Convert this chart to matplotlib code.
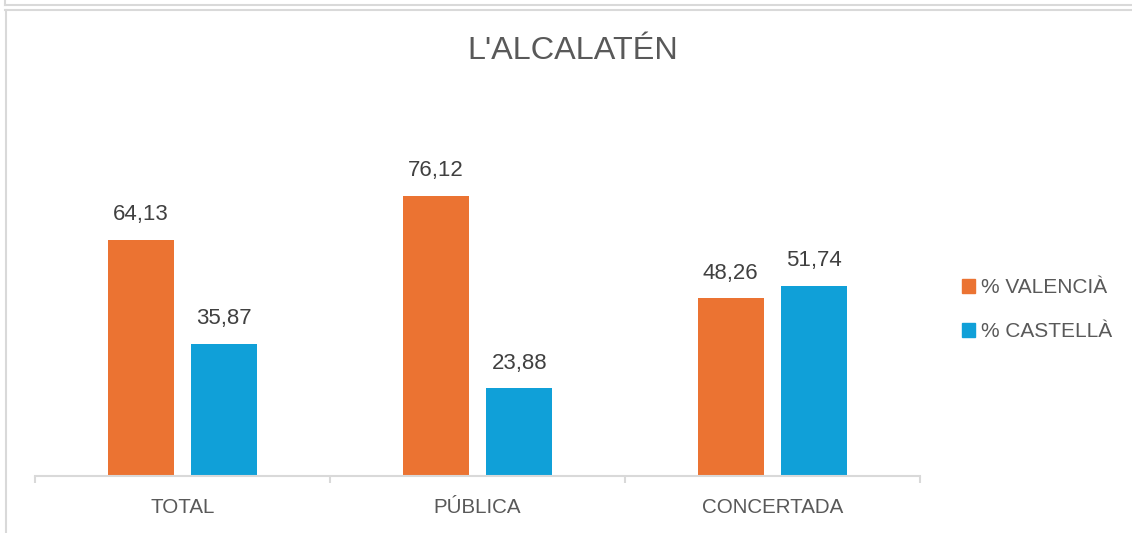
import matplotlib
matplotlib.use("Agg")
import numpy as np
import matplotlib.pyplot as plt
from matplotlib.lines import Line2D
from matplotlib.patches import Patch

plt.rcParams['font.family'] = ['Liberation Sans', 'DejaVu Sans']

# Dades
categories = ['TOTAL', 'PÚBLICA', 'CONCERTADA']
valencia = [64.13, 76.12, 48.26]
castella = [35.87, 23.88, 51.74]
series_names = ['% VALENCIÀ', '% CASTELLÀ']

col_val = '#EB7332'
col_cas = '#10A0D8'
gris = '#595959'
linia = '#D9D9D9'

W, H = 1132, 533
fig = plt.figure(figsize=(W / 100, H / 100), dpi=100)

# marc de fons
fig.add_artist(Line2D([5 / W, 1], [1 - 5 / H, 1 - 5 / H], color=linia, lw=1.5))
fig.add_artist(Line2D([5 / W, 5 / W], [1, 1 - 5 / H], color=linia, lw=1.5))
fig.add_artist(Line2D([5 / W, 1], [1 - 9.5 / H, 1 - 9.5 / H], color=linia, lw=1.5))
fig.add_artist(Line2D([5.5 / W, 5.5 / W], [0, 1 - 9.5 / H], color=linia, lw=1.5))

# eixos en pixels
x0, x1 = 35, 920
yb, yt = 476, 476 - 90 * 3.68
ax = fig.add_axes([x0 / W, 1 - yb / H, (x1 - x0) / W, (yb - yt) / H])

x = np.arange(len(categories))
w = 0.224
off = 0.142
b1 = ax.bar(x - off, valencia, w, color=col_val, zorder=2)
b2 = ax.bar(x + off, castella, w, color=col_cas, zorder=2)

for bars, vals in [(b1, valencia), (b2, castella)]:
    for b, v in zip(bars, vals):
        ax.annotate(f'{v:.2f}'.replace('.', ','),
                    (b.get_x() + b.get_width() / 2, v),
                    xytext=(0, 10.5), textcoords='offset points',
                    ha='center', va='bottom', fontsize=16, color='#404040')

ax.set_xlim(-0.5, 2.5)
ax.set_ylim(0, 90)
for s in ['top', 'right', 'left']:
    ax.spines[s].set_visible(False)
ax.spines['bottom'].set_color(linia)
ax.spines['bottom'].set_linewidth(1.5)
ax.set_yticks([])
ax.set_xticks(x)
ax.set_xticklabels(categories, fontsize=14.8, color=gris)
ax.tick_params(axis='x', which='major', length=0, pad=16)
ax.set_xticks([-0.5, 0.5, 1.5, 2.5], minor=True)
ax.tick_params(axis='x', which='minor', length=5, width=1.5, color=linia)

fig.text(573 / W, 1 - 51 / H, "L'ALCALATÉN", ha='center', va='center',
         fontsize=23.3, color=gris)

handles = [Patch(color=col_val), Patch(color=col_cas)]
fig.legend(handles, series_names, loc='upper left',
           bbox_to_anchor=(952 / W, 1 - 268 / H), frameon=False,
           fontsize=15, labelcolor=gris, handlelength=0.6, handleheight=0.6,
           handletextpad=0.3, labelspacing=1.2, borderpad=0)

fig.savefig('out.png', dpi=100)
